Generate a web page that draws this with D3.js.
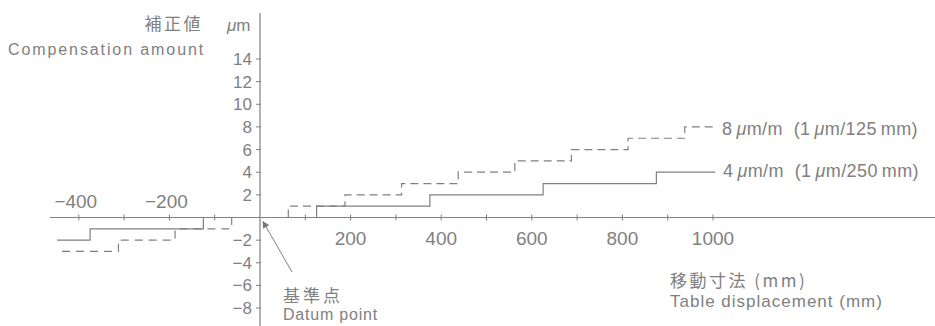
<!DOCTYPE html>
<html>
<head>
<meta charset="utf-8">
<script src="https://cdn.jsdelivr.net/npm/d3@7"></script>
<style>
  body { margin: 0; background: #fff; }
  svg { display: block; }
  text { font-family: 'Liberation Sans', Arial, sans-serif; fill: #808080; }
  .jp { font-family: 'Noto Sans CJK JP', sans-serif; }
</style>
</head>
<body>
<svg></svg>
<script>
const width = 935,
    height = 326

// tick values
const xTicks = [-400, -300, -200, -100, 0, 100, 200, 300, 400, 500, 600, 700, 800, 900, 1000]
const xLabelsNeg = [-400, -200]
const xLabelsPos = [200, 400, 600, 800, 1000]
const yTicks = [-8, -6, -4, -2, 2, 4, 6, 8, 10, 12, 14]

// 8 um/m (1 um / 125 mm), dashed
const dashPosX = [62.5, 187.5, 312.5, 437.5, 562.5, 687.5, 812.5, 937.5, 1005]
const dashPosY = [0, 1, 2, 3, 4, 5, 6, 7, 8]
const dashNegX = [-437, -312.5, -187.5, -62.5]
const dashNegY = [-3, -2, -1, 0]

// 4 um/m (1 um / 250 mm), solid
const solidPosX = [125, 375, 625, 875, 1005]
const solidPosY = [0, 1, 2, 3, 4]
const solidNegX = [-448, -375, -125]
const solidNegY = [-2, -1, 0]

const x = d3.scaleLinear().domain([0, 1000]).range([260, 713])
const y = d3.scaleLinear().domain([0, 14]).range([217.5, 59])

const svg = d3.select('svg').attr('width', width).attr('height', height)

svg.append('defs')
    .append('marker')
    .attr('id', 'arrow')
    .attr('viewBox', '0 0 10 10')
    .attr('refX', 9)
    .attr('refY', 5)
    .attr('markerWidth', 9)
    .attr('markerHeight', 7)
    .attr('markerUnits', 'userSpaceOnUse')
    .attr('orient', 'auto')
    .append('path')
    .attr('d', 'M0,0L10,5L0,10z')
    .attr('fill', '#7a7a7a')

const stroke = '#808080'

// axes
svg.append('line')
    .attr('x1', 50).attr('x2', width)
    .attr('y1', y(0)).attr('y2', y(0))
    .attr('stroke', stroke).attr('stroke-width', 1.2)
svg.append('line')
    .attr('x1', x(0)).attr('x2', x(0))
    .attr('y1', 13).attr('y2', height)
    .attr('stroke', stroke).attr('stroke-width', 1.2)

svg.selectAll('.xt')
    .data(xTicks.filter((d) => d !== 0))
    .join('line')
    .attr('x1', (d) => x(d)).attr('x2', (d) => x(d))
    .attr('y1', y(0) - 3).attr('y2', y(0) + 3)
    .attr('stroke', stroke).attr('stroke-width', 1)

svg.selectAll('.yt')
    .data(yTicks)
    .join('line')
    .attr('x1', x(0) - 4).attr('x2', x(0) + 1)
    .attr('y1', (d) => y(d)).attr('y2', (d) => y(d))
    .attr('stroke', stroke).attr('stroke-width', 1)

// tick labels
svg.selectAll('.yl')
    .data(yTicks)
    .join('text')
    .attr('x', x(0) - 8)
    .attr('y', (d) => y(d) + 6)
    .attr('text-anchor', 'end')
    .attr('font-size', 17)
    .text((d) => (d < 0 ? '\u2212' + -d : d))

svg.selectAll('.xln')
    .data(xLabelsNeg)
    .join('text')
    .attr('x', (d) => x(d) - 3)
    .attr('y', 208)
    .attr('text-anchor', 'middle')
    .attr('font-size', 19)
    .text((d) => '\u2212' + -d)

svg.selectAll('.xlp')
    .data(xLabelsPos)
    .join('text')
    .attr('x', (d) => x(d))
    .attr('y', 245)
    .attr('text-anchor', 'middle')
    .attr('font-size', 19)
    .text((d) => d)

// step lines
const before = d3.line().x((d) => x(d[0])).y((d) => y(d[1])).curve(d3.curveStepBefore)
const after = d3.line().x((d) => x(d[0])).y((d) => y(d[1])).curve(d3.curveStepAfter)
const zip = (xs, ys) => xs.map((v, i) => [v, ys[i]])

const series = [
    { pts: zip(dashPosX, dashPosY), gen: before, dash: '8,5' },
    { pts: zip(dashNegX, dashNegY), gen: after, dash: '8,6' },
    { pts: zip(solidPosX, solidPosY), gen: before, dash: null },
    { pts: zip(solidNegX, solidNegY), gen: after, dash: null },
]
series.forEach((s) => {
    svg.append('path')
        .attr('d', s.gen(s.pts))
        .attr('fill', 'none')
        .attr('stroke', stroke)
        .attr('stroke-width', 1.2)
        .attr('stroke-dasharray', s.dash)
})

// series labels
function muText(sel, parts) {
    parts.forEach((p) => {
        sel.append('tspan').attr('font-style', p[1] ? 'italic' : null).text(p[0])
    })
}
muText(
    svg.append('text').attr('x', 722).attr('y', 135).attr('font-size', 18).attr('letter-spacing', 0.4),
    [['8\u2009', 0], ['\u03bc', 1], ['m/m\u00a0\u00a0(1\u2009', 0], ['\u03bc', 1], ['m/125\u2009mm)', 0]]
)
muText(
    svg.append('text').attr('x', 723).attr('y', 177).attr('font-size', 18).attr('letter-spacing', 0.4),
    [['4\u2009', 0], ['\u03bc', 1], ['m/m\u00a0\u00a0(1\u2009', 0], ['\u03bc', 1], ['m/250\u2009mm)', 0]]
)

// axis titles
svg.append('text').attr('class', 'jp').attr('x', 203).attr('y', 30)
    .attr('text-anchor', 'end').attr('font-size', 17).attr('letter-spacing', 2.5).text('補正値')
muText(svg.append('text').attr('x', 227).attr('y', 31).attr('font-size', 17),
    [['\u03bc', 1], ['m', 0]])
svg.append('text').attr('x', 8).attr('y', 55).attr('font-size', 16)
    .attr('letter-spacing', 1.9).text('Compensation amount')

svg.append('text').attr('class', 'jp').attr('x', 670).attr('y', 287)
    .attr('font-size', 17).attr('letter-spacing', 2.5).text('移動寸法 (mm)')
svg.append('text').attr('x', 670).attr('y', 307)
    .attr('font-size', 17).attr('letter-spacing', 1).text('Table displacement (mm)')

// datum point
svg.append('line')
    .attr('x1', 292).attr('y1', 272)
    .attr('x2', x(0) + 3).attr('y2', y(0) + 4)
    .attr('stroke', stroke).attr('stroke-width', 1)
    .attr('marker-end', 'url(#arrow)')
svg.append('text').attr('class', 'jp').attr('x', 283).attr('y', 302)
    .attr('font-size', 17).attr('letter-spacing', 3).text('基準点')
svg.append('text').attr('x', 283).attr('y', 320)
    .attr('font-size', 16).attr('letter-spacing', 0.8).text('Datum point')
</script>
</body>
</html>
